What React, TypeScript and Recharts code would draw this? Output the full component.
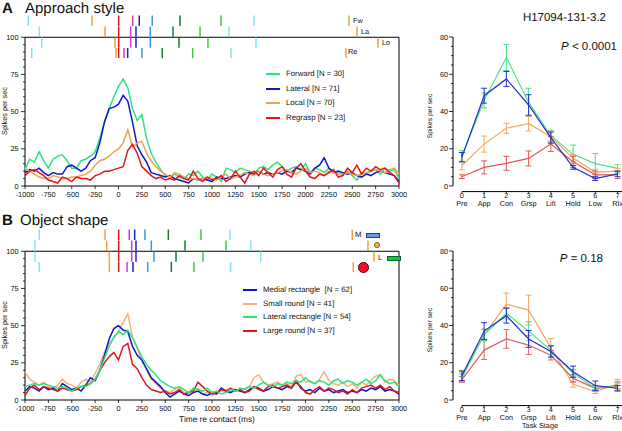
import React from "react";
import { ErrorBar, Line, LineChart, ReferenceLine, XAxis, YAxis } from "recharts";

const FONT = '"Liberation Sans", Arial, Helvetica, sans-serif';

// ---- PSTH traces, 50 ms bins from -1000 to 3000 ms ----
const TIME_MS = Array.from({ length: 81 }, (_, i) => -1000 + i * 50);
const X_TICKS_MS = [-1000, -750, -500, -250, 0, 250, 500, 750, 1000, 1250, 1500, 1750, 2000, 2250, 2500, 2750, 3000];
const PSTH_Y_TICKS = [0, 5, 10, 15, 20, 25, 30, 35, 40, 45, 50, 55, 60, 65, 70, 75, 80, 85, 90, 95, 100];

const A_FORWARD = [11, 18, 16, 23, 17, 12, 18, 20, 21, 17, 12, 12, 17, 18, 20, 23, 32, 43, 52, 60, 67, 72, 66, 52, 44, 48, 32, 22, 16, 11, 7, 6, 8, 6, 5, 8, 7, 10, 6, 4, 8, 6, 3, 12, 11, 9, 12, 11, 10, 8, 12, 13, 11, 14, 16, 13, 10, 12, 13, 11, 15, 9, 12, 11, 9, 12, 10, 9, 8, 10, 7, 4, 9, 8, 10, 11, 8, 12, 10, 11, 5];
const A_LATERAL = [9, 11, 10, 12, 9, 7, 9, 8, 8, 13, 14, 12, 10, 12, 17, 19, 29, 43, 52, 53, 55, 61, 57, 43, 27, 21, 16, 9, 8, 7, 6, 7, 5, 4, 3, 2, 5, 4, 5, 4, 3, 6, 5, 5, 6, 7, 6, 8, 9, 8, 10, 8, 9, 8, 9, 8, 10, 9, 12, 11, 10, 8, 12, 14, 19, 12, 9, 10, 9, 8, 9, 7, 6, 8, 7, 9, 10, 9, 8, 7, 3];
const A_LOCAL = [12, 10, 8, 6, 5, 5, 7, 6, 5, 5, 6, 6, 7, 8, 10, 14, 17, 18, 20, 23, 25, 29, 38, 26, 29, 30, 22, 17, 13, 10, 8, 6, 9, 8, 6, 5, 5, 4, 5, 6, 5, 4, 6, 8, 5, 6, 7, 9, 8, 7, 10, 8, 7, 8, 9, 10, 11, 9, 8, 10, 12, 9, 10, 9, 7, 10, 9, 8, 8, 9, 8, 7, 8, 9, 10, 11, 10, 9, 11, 12, 8];
const A_REGRASP = [7, 10, 11, 9, 7, 4, 3, 2, 6, 5, 3, 6, 5, 5, 4, 7, 8, 10, 10, 11, 12, 13, 24, 28, 22, 13, 10, 7, 5, 6, 4, 5, 4, 7, 5, 4, 10, 5, 3, 6, 4, 5, 7, 3, 5, 10, 6, 2, 8, 10, 7, 12, 9, 6, 11, 13, 8, 6, 12, 15, 10, 6, 5, 8, 7, 9, 11, 6, 7, 12, 9, 14, 8, 12, 10, 13, 11, 12, 9, 7, 2];

const B_MEDIAL = [6, 9, 8, 6, 9, 7, 8, 6, 11, 9, 7, 8, 6, 10, 15, 13, 20, 30, 41, 48, 50, 47, 46, 36, 30, 27, 21, 15, 12, 9, 5, 2, 4, 6, 4, 3, 5, 6, 4, 3, 5, 4, 8, 6, 5, 7, 6, 5, 7, 9, 8, 6, 7, 9, 8, 7, 9, 8, 13, 8, 6, 7, 5, 8, 6, 7, 5, 6, 7, 5, 6, 5, 7, 6, 8, 7, 9, 6, 7, 6, 4];
const B_SMALL = [19, 14, 12, 10, 12, 9, 8, 10, 14, 11, 10, 8, 12, 14, 12, 18, 24, 32, 38, 42, 46, 52, 58, 42, 35, 26, 20, 14, 11, 8, 6, 5, 7, 8, 5, 3, 5, 8, 4, 5, 3, 5, 6, 7, 5, 7, 6, 8, 9, 15, 17, 12, 10, 11, 12, 10, 11, 9, 16, 17, 12, 13, 11, 14, 19, 13, 11, 10, 12, 9, 11, 8, 12, 10, 13, 16, 17, 12, 14, 13, 10];
const B_LATERAL = [9, 10, 11, 10, 11, 10, 9, 8, 9, 8, 6, 8, 9, 9, 11, 14, 20, 28, 36, 42, 46, 44, 47, 42, 35, 29, 24, 20, 17, 13, 11, 9, 8, 9, 7, 5, 8, 7, 6, 8, 5, 6, 4, 5, 7, 6, 8, 7, 9, 8, 10, 12, 10, 9, 11, 10, 12, 11, 13, 12, 15, 12, 11, 13, 12, 10, 13, 14, 11, 13, 12, 10, 12, 14, 11, 13, 17, 13, 11, 12, 9];
const B_LARGE = [3, 8, 10, 7, 9, 8, 7, 6, 8, 7, 6, 7, 9, 10, 11, 14, 20, 25, 29, 32, 27, 36, 38, 24, 21, 15, 10, 7, 6, 5, 6, 4, 5, 7, 4, 5, 6, 12, 9, 6, 4, 5, 7, 6, 8, 6, 7, 5, 6, 9, 7, 6, 9, 10, 8, 9, 10, 8, 12, 9, 5, 4, 7, 9, 6, 8, 7, 5, 6, 4, 7, 5, 8, 9, 10, 8, 10, 7, 9, 6, 5];

// ---- event markers above the PSTH, one value per condition row (ms) ----
const MARKER_ROWS = [[107.6, 114.6], [100.3, 107.2], [93, 99.9], [86, 92.8]];
const A_CUE1 = [-965, -847, -821, -928];
const A_GO = [-283, -144, -37, -27];
const A_CONTACT = [2, 2, 2, 2];
const A_EV3 = [152, 130, 130, 59];
const A_EV4 = [222, 187, 187, 98];
const A_EV5 = [361, 340, 340, 251];
const A_EV6 = [658, 583, 647, 468];
const A_EV7 = [1096, 872, 957, 793];
const A_CUE2 = [1449, 1182, 1471, 1203];
const A_END = [2465, 2551, 2775, 2433];

const B_CUE1 = [-847, -893, -893, -847];
const B_GO = [-144, -126, -98, -98];
const B_CONTACT = [2, 2, 2, 2];
const B_EV3 = [115, 141, 141, 91];
const B_EV4 = [173, 187, 187, 155];
const B_EV5 = [283, 351, 380, 312];
const B_EV6 = [533, 711, 615, 565];
const B_EV7 = [882, 1150, 904, 807];
const B_CUE2 = [1192, 1414, 1521, 1199];
const B_END = [2500, 2668, 2733, 2511];

// ---- task stage means ± SE ----
const STAGE_NUM = [0, 1, 2, 3, 4, 5, 6, 7];
const STAGES = ["Pre", "App", "Con", "Grsp", "Lift", "Hold", "Low", "Rlx"];
const STAGE_Y_TICKS = [0, 5, 10, 15, 20, 25, 30, 35, 40, 45, 50, 55, 60, 65, 70, 75, 80];

const SA_FORWARD = [16, 46, 69, 45, 27, 17, 12, 9.5];
const SA_FORWARD_SE = [3, 4, 7, 7.5, 3, 5, 5.5, 2];
const SA_LATERAL = [15.5, 48.5, 57.5, 43.5, 26, 10, 4, 6.5];
const SA_LATERAL_SE = [2.5, 4, 4, 5.5, 3, 1, 1, 1.5];
const SA_LOCAL = [11, 22.5, 31, 33.5, 26.5, 15, 7.5, 8];
const SA_LOCAL_SE = [2.3, 4.3, 2.7, 3.9, 3, 2, 1.5, 1.5];
const SA_REGRASP = [5, 10, 12.2, 14.8, 22.5, 13, 6, 6];
const SA_REGRASP_SE = [1, 3.5, 3.7, 4, 4, 3, 2, 2];

const SB_MEDIAL = [13, 37, 45.3, 32.8, 26, 15.2, 7.7, 6.3];
const SB_MEDIAL_SE = [2.5, 4.5, 4, 4.5, 3, 3, 2.5, 1.5];
const SB_SMALL = [13, 35, 51.4, 48.3, 28, 8.4, 4.5, 8.6];
const SB_SMALL_SE = [3, 3, 6, 8, 5, 1.5, 1, 2.5];
const SB_LATERAL = [12, 35, 46.5, 37, 26.8, 14.3, 6.3, 8];
const SB_LATERAL_SE = [2, 3, 3, 5, 2.5, 2, 1.5, 2];
const SB_LARGE = [11, 26.8, 32.8, 29.5, 24, 11.6, 6.3, 7.2];
const SB_LARGE_SE = [1.5, 5, 5, 5, 2.5, 2, 1.5, 2];

const EV_COLORS = {
  cue: "#7fe6f0",
  go: "#f0a23a",
  contact: "#e01418",
  ev3: "#c83cc8",
  ev4: "#1a24c0",
  ev5: "#3a98dc",
  ev6: "#1a7a2a",
  ev7: "#3ccc3c",
};

type Trace = { key: string; color: string; values: number[] };
type MarkerSet = { times: number[]; color: string };

const markersA: MarkerSet[] = [
  { times: A_CUE1, color: EV_COLORS.cue },
  { times: A_GO, color: EV_COLORS.go },
  { times: A_CONTACT, color: EV_COLORS.contact },
  { times: A_EV3, color: EV_COLORS.ev3 },
  { times: A_EV4, color: EV_COLORS.ev4 },
  { times: A_EV5, color: EV_COLORS.ev5 },
  { times: A_EV6, color: EV_COLORS.ev6 },
  { times: A_EV7, color: EV_COLORS.ev7 },
  { times: A_CUE2, color: EV_COLORS.cue },
  { times: A_END, color: EV_COLORS.go },
];
const markersB: MarkerSet[] = [
  { times: B_CUE1, color: EV_COLORS.cue },
  { times: B_GO, color: EV_COLORS.go },
  { times: B_CONTACT, color: EV_COLORS.contact },
  { times: B_EV3, color: EV_COLORS.ev3 },
  { times: B_EV4, color: EV_COLORS.ev4 },
  { times: B_EV5, color: EV_COLORS.ev5 },
  { times: B_EV6, color: EV_COLORS.ev6 },
  { times: B_EV7, color: EV_COLORS.ev7 },
  { times: B_CUE2, color: EV_COLORS.cue },
  { times: B_END, color: EV_COLORS.go },
];

const tracesA: Trace[] = [
  { key: "fw", color: "#2fe27f", values: A_FORWARD },
  { key: "la", color: "#0c18c8", values: A_LATERAL },
  { key: "lo", color: "#f6a04e", values: A_LOCAL },
  { key: "re", color: "#e5161b", values: A_REGRASP },
];
const tracesB: Trace[] = [
  { key: "sm", color: "#f6b27c", values: B_SMALL },
  { key: "me", color: "#0c18c8", values: B_MEDIAL },
  { key: "lg", color: "#e5161b", values: B_LARGE },
  { key: "la", color: "#28e67c", values: B_LATERAL },
];

const stageA = [
  { key: "fw", color: "#4fe08c", mean: SA_FORWARD, se: SA_FORWARD_SE },
  { key: "lo", color: "#f2a95a", mean: SA_LOCAL, se: SA_LOCAL_SE },
  { key: "re", color: "#e25656", mean: SA_REGRASP, se: SA_REGRASP_SE },
  { key: "la", color: "#2232c8", mean: SA_LATERAL, se: SA_LATERAL_SE },
];
const stageB = [
  { key: "sm", color: "#f0a860", mean: SB_SMALL, se: SB_SMALL_SE },
  { key: "lg", color: "#e06060", mean: SB_LARGE, se: SB_LARGE_SE },
  { key: "la", color: "#48dc8c", mean: SB_LATERAL, se: SB_LATERAL_SE },
  { key: "me", color: "#2232c8", mean: SB_MEDIAL, se: SB_MEDIAL_SE },
];

const TimeTick = (p: any) => (
  <g>
    <line x1={p.x} x2={p.x} y1={p.y} y2={p.y + 3} stroke="#000" strokeWidth={0.8} />
    <text x={p.x} y={p.y + 10.8} textAnchor="middle" fontSize={7.3} fontFamily={FONT} fill="#111" textRendering="geometricPrecision">
      {p.payload.value}
    </text>
  </g>
);

const makeYTick = (major: number, gap: number) => (p: any) => {
  const v = p.payload.value;
  const isMajor = v % major === 0;
  return (
    <g>
      <line x1={p.x - (isMajor ? 4 : 2)} x2={p.x} y1={p.y} y2={p.y} stroke="#000" strokeWidth={0.8} />
      {isMajor && (
        <text x={p.x - gap} y={p.y + 2.5} textAnchor="end" fontSize={7.3} fontFamily={FONT} fill="#111" textRendering="geometricPrecision">
          {v}
        </text>
      )}
    </g>
  );
};

const StageTick = (p: any) => (
  <g>
    <line x1={p.x} x2={p.x} y1={p.y} y2={p.y + 2} stroke="#000" strokeWidth={0.8} />
    <text x={p.x} y={p.y + 6.3} textAnchor="middle" fontSize={7.3} fontFamily={FONT} fill="#111" textRendering="geometricPrecision">
      {p.payload.value}
    </text>
    <text x={p.x} y={p.y + 14.3} textAnchor="middle" fontSize={7.3} fontFamily={FONT} fill="#111" textRendering="geometricPrecision">
      {STAGES[p.payload.value]}
    </text>
  </g>
);

function PsthChart({ top, bottom, traces, markers }: { top: number; bottom: number; traces: Trace[]; markers: MarkerSet[] }) {
  const data = TIME_MS.map((t, i) => {
    const row: Record<string, number> = { t };
    traces.forEach((tr) => (row[tr.key] = tr.values[i]));
    return row;
  });
  return (
    <div style={{ position: "absolute", left: 0, top }}>
      <LineChart width={410} height={215} data={data} margin={{ top: 215 - bottom - 178.5, right: 11, bottom: bottom - 1, left: 24 }}>
        <XAxis
          dataKey="t"
          type="number"
          domain={[-1000, 3000]}
          ticks={X_TICKS_MS}
          interval={0}
          height={1}
          tickSize={0}
          tickMargin={0}
          tickLine={false}
          axisLine={{ stroke: "#000", strokeWidth: 1 }}
          tick={TimeTick}
        />
        <YAxis
          type="number"
          domain={[0, 120]}
          ticks={PSTH_Y_TICKS}
          interval={0}
          width={1}
          tickSize={0}
          tickMargin={0}
          tickLine={false}
          axisLine={false}
          allowDataOverflow
          tick={makeYTick(25, 6.5)}
        />
        <ReferenceLine y={100} stroke="#000" strokeWidth={1} />
        <ReferenceLine segment={[{ x: -1000, y: 0 }, { x: -1000, y: 100 }]} stroke="#000" strokeWidth={1} />
        <ReferenceLine segment={[{ x: 3000, y: 0 }, { x: 3000, y: 100 }]} stroke="#000" strokeWidth={1} />
        {markers.map((m, mi) =>
          m.times.map((t, r) => (
            <ReferenceLine
              key={`m${mi}-${r}`}
              segment={[{ x: t, y: MARKER_ROWS[r][0] }, { x: t, y: MARKER_ROWS[r][1] }]}
              stroke={m.color}
              strokeWidth={1.5}
            />
          )),
        )}
        {traces.map((tr) => (
          <Line
            key={tr.key}
            type="linear"
            dataKey={tr.key}
            stroke={tr.color}
            strokeWidth={1.5}
            dot={false}
            isAnimationActive={false}
          />
        ))}
      </LineChart>
    </div>
  );
}

function StageChart({ top, series }: { top: number; series: typeof stageA }) {
  const data = STAGE_NUM.map((s, i) => {
    const row: Record<string, number> = { stage: s };
    series.forEach((se) => {
      row[se.key] = se.mean[i];
      row[se.key + "E"] = se.se[i];
    });
    return row;
  });
  return (
    <div style={{ position: "absolute", left: 400, top }}>
      <LineChart width={222} height={215} data={data} margin={{ top: 37, right: 0, bottom: 22.4, left: 52 }}>
        <XAxis
          dataKey="stage"
          type="number"
          domain={[-0.4, 7.2]}
          ticks={STAGE_NUM}
          interval={0}
          height={1}
          tickSize={0}
          tickMargin={0}
          tickLine={false}
          axisLine={false}
          tick={StageTick}
        />
        <YAxis
          type="number"
          domain={[-3, 80]}
          ticks={STAGE_Y_TICKS}
          interval={0}
          width={1}
          tickSize={0}
          tickMargin={0}
          tickLine={false}
          axisLine={false}
          tick={makeYTick(20, 5)}
        />
        <ReferenceLine segment={[{ x: -0.4, y: 0 }, { x: -0.4, y: 80 }]} stroke="#000" strokeWidth={1} />
        <ReferenceLine segment={[{ x: 0, y: -3 }, { x: 7.2, y: -3 }]} stroke="#000" strokeWidth={1} />
        {series.map((se) => (
          <Line
            key={se.key}
            type="linear"
            dataKey={se.key}
            stroke={se.color}
            strokeWidth={1.2}
            dot={false}
            isAnimationActive={false}
          >
            <ErrorBar dataKey={se.key + "E"} width={3} stroke={se.color} strokeWidth={1} direction="y" isAnimationActive={false} />
          </Line>
        ))}
      </LineChart>
    </div>
  );
}

function Txt({
  x,
  y,
  size = 7,
  anchor = "start",
  weight = 400,
  rotate,
  lh = 1.15,
  children,
}: {
  x: number;
  y: number;
  size?: number;
  anchor?: "start" | "middle" | "end";
  weight?: number;
  rotate?: number;
  lh?: number;
  children: React.ReactNode;
}) {
  const tx = anchor === "start" ? "0" : anchor === "middle" ? "-50%" : "-100%";
  return (
    <div
      style={{
        position: "absolute",
        left: x,
        top: y,
        transform: `translate(${tx},-50%)${rotate ? ` rotate(${rotate}deg)` : ""}`,
        fontSize: size,
        fontWeight: weight,
        lineHeight: lh,
        whiteSpace: "pre",
        fontFamily: FONT,
        color: "#111",
        textRendering: "geometricPrecision",
      }}
    >
      {children}
    </div>
  );
}

function Legend({ x, textX, ys, items }: { x: number; textX: number; ys: number[]; items: { label: string; color: string }[] }) {
  return (
    <>
      {items.map((it, i) => (
        <React.Fragment key={it.label}>
          <div style={{ position: "absolute", left: x, top: ys[i] - 1, width: 14, height: 2, background: it.color }} />
          <Txt x={textX} y={ys[i]} size={7.8}>
            {it.label}
          </Txt>
        </React.Fragment>
      ))}
    </>
  );
}

const box = (l: number, t: number, w: number, h: number, bg: string, border: string, round = false): React.CSSProperties => ({
  position: "absolute",
  left: l,
  top: t,
  width: w,
  height: h,
  background: bg,
  border: `0.7px solid ${border}`,
  borderRadius: round ? "50%" : 0,
  boxSizing: "border-box",
});

export default function App() {
  return (
    <div style={{ position: "absolute", left: 0, top: 0, width: 622, height: 431, background: "#fff", overflow: "hidden", fontFamily: FONT }}>
      <PsthChart top={0} bottom={29} traces={tracesA} markers={markersA} />
      <PsthChart top={215} bottom={30} traces={tracesB} markers={markersB} />
      <StageChart top={0} series={stageA} />
      <StageChart top={214} series={stageB} />

      <Txt x={2} y={7.5} size={15} weight={700} lh={1}>A</Txt>
      <Txt x={25} y={7.5} size={15} lh={1}>Approach style</Txt>
      <Txt x={2} y={219.5} size={15} weight={700} lh={1}>B</Txt>
      <Txt x={20} y={219.5} size={15} lh={1}>Object shape</Txt>

      <Txt x={5} y={111} size={7.3} anchor="middle" rotate={-90}>Spikes per sec</Txt>
      <Txt x={5} y={325} size={7.3} anchor="middle" rotate={-90}>Spikes per sec</Txt>
      <Txt x={431} y={116} size={6.8} anchor="middle" rotate={-90}>Spikes per sec</Txt>
      <Txt x={431} y={330} size={6.8} anchor="middle" rotate={-90}>Spikes per sec</Txt>

      <Txt x={217} y={420} size={8.3} anchor="middle">Time re contact (ms)</Txt>
      <Txt x={540} y={426} size={7.3} anchor="middle">Task Stage</Txt>

      <Txt x={606} y={19} size={11.5} anchor="end">H17094-131-3.2</Txt>
      <Txt x={617} y={48} size={11.5} anchor="end">
        <i>P</i> &lt; 0.0001
      </Txt>
      <Txt x={603} y={260} size={11.5} anchor="end">
        <i>P</i> = 0.18
      </Txt>

      <Txt x={353} y={21} size={7.3}>Fw</Txt>
      <Txt x={361} y={32} size={7.3}>La</Txt>
      <Txt x={382} y={43} size={7.3}>Lo</Txt>
      <Txt x={348} y={52} size={7.3}>Re</Txt>

      <Txt x={355} y={235} size={7.8}>M</Txt>
      <div style={box(366, 233, 14, 5, "#6b9ae0", "#2a3f7a")} />
      <div style={box(374, 242, 6, 6, "#f2c040", "#7a6020", true)} />
      <Txt x={378} y={258} size={7.8}>L</Txt>
      <div style={box(387, 255.5, 14, 5.5, "#12cc12", "#064")} />
      <div style={box(358, 262, 10.5, 10.5, "#e8102a", "#700", true)} />

      <Legend
        x={266}
        textX={286}
        ys={[74, 88.5, 103, 117.5]}
        items={[
          { label: "Forward [N = 30]", color: "#2fe27f" },
          { label: "Lateral [N = 71]", color: "#0c18c8" },
          { label: "Local [N = 70]", color: "#f6a04e" },
          { label: "Regrasp [N = 23]", color: "#e5161b" },
        ]}
      />
      <Legend
        x={243}
        textX={263}
        ys={[290.3, 303.7, 317, 331]}
        items={[
          { label: "Medial rectangle  [N = 62]", color: "#0c18c8" },
          { label: "Small round [N = 41]", color: "#f6b27c" },
          { label: "Lateral rectangle [N = 54]", color: "#28e67c" },
          { label: "Large round [N = 37]", color: "#e5161b" },
        ]}
      />
    </div>
  );
}
